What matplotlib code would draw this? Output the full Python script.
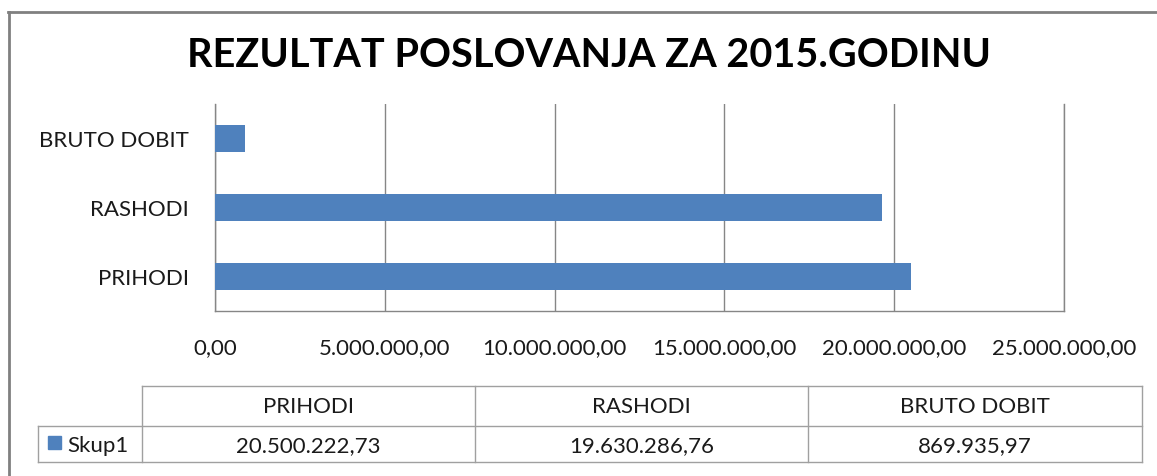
import matplotlib.pyplot as plt
from matplotlib.lines import Line2D
from matplotlib.patches import Rectangle

categories = ["PRIHODI", "RASHODI", "BRUTO DOBIT"]
values = [20500222.73, 19630286.76, 869935.97]
series_name = "Skup1"
x_ticks = [0, 5000000, 10000000, 15000000, 20000000, 25000000]
title = "REZULTAT POSLOVANJA ZA 2015.GODINU"

BLUE = "#4F81BD"
GRID = "#868686"
TEXT = "#1a1a1a"
W, H = 1157, 477
FS = 16


def fmt(v):
    # European style: 20.500.222,73
    s = f"{v:,.2f}"
    return s.replace(",", "X").replace(".", ",").replace("X", ".")


plt.rcParams["font.family"] = ["Lato", "DejaVu Sans"]

fig = plt.figure(figsize=(W / 100, H / 100), dpi=100)

# overlay in pixel coords for frame and data table
over = fig.add_axes([0, 0, 1, 1])
over.set_xlim(0, W)
over.set_ylim(H, 0)
over.axis("off")

ax = fig.add_axes([215 / W, 1 - 312 / H, (1064 - 215) / W, (312 - 105) / H])
ax.barh(range(len(categories)), values, height=0.4, color=BLUE, zorder=3)
ax.set_xlim(0, x_ticks[-1])
ax.set_ylim(-0.5, len(categories) - 0.5)
ax.set_xticks(x_ticks)
ax.set_xticklabels([fmt(t) for t in x_ticks])
ax.set_yticks(range(len(categories)))
ax.set_yticklabels(categories)
ax.tick_params(length=0, labelsize=FS, labelcolor=TEXT)
ax.tick_params(axis="x", pad=19)
ax.tick_params(axis="y", pad=19)
ax.grid(axis="x", color=GRID, linewidth=1, zorder=0)
ax.spines["top"].set_visible(False)
for s in ["left", "right", "bottom"]:
    ax.spines[s].set_color(GRID)
    ax.spines[s].set_linewidth(1)

over.text(589, 67, title, ha="center", va="baseline", fontsize=28.5,
          fontweight="bold", color="black")

# outer frame (cut off at right and bottom)
over.add_line(Line2D([8, W], [13, 13], color="#808080", lw=2))
over.add_line(Line2D([9, 9], [13, H], color="#808080", lw=2))

# data table below the chart
TL = "#a0a0a0"
cols = [142, 475, 808, 1142]
top, mid, bot = 387, 427, 463
over.add_line(Line2D([cols[0], cols[-1]], [top, top], color=TL, lw=1))
over.add_line(Line2D([38, cols[-1]], [mid, mid], color=TL, lw=1))
over.add_line(Line2D([38, cols[-1]], [bot, bot], color=TL, lw=1))
over.add_line(Line2D([38, 38], [mid, bot], color=TL, lw=1))
for c in cols:
    over.add_line(Line2D([c, c], [top, bot], color=TL, lw=1))
for i, (cat, v) in enumerate(zip(categories, values)):
    cx = (cols[i] + cols[i + 1]) / 2
    over.text(cx, 413, cat, ha="center", va="baseline",
              fontsize=FS, color=TEXT)
    over.text(cx, 452, fmt(v), ha="center", va="baseline",
              fontsize=FS, color=TEXT)
over.add_patch(Rectangle((48, 437), 13, 13, color=BLUE))
over.text(67, 452, series_name, ha="left", va="baseline",
          fontsize=FS, color=TEXT)

fig.savefig("out.png", dpi=100)
